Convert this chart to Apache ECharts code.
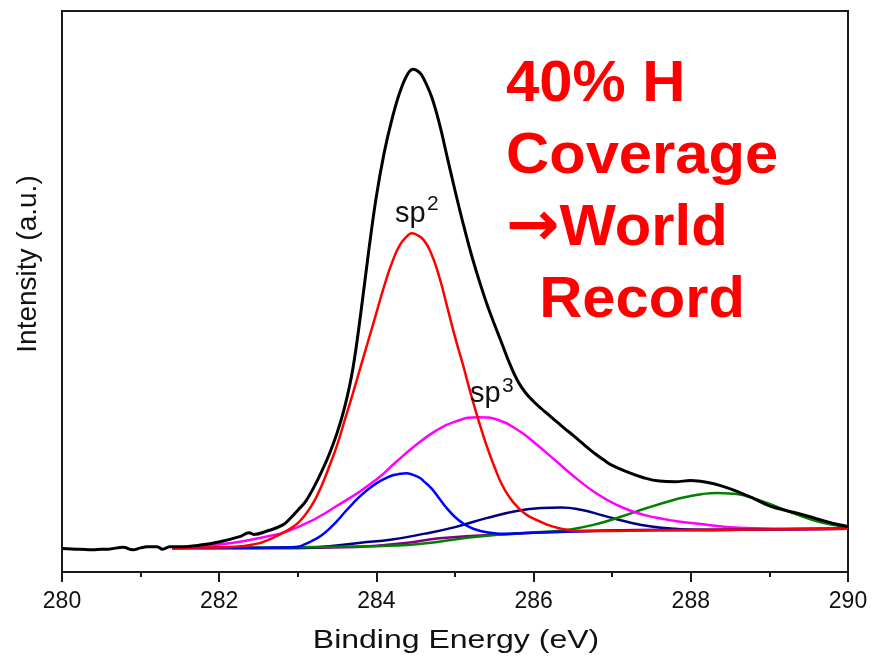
<!DOCTYPE html>
<html>
<head>
<meta charset="utf-8">
<script src="https://cdn.jsdelivr.net/npm/echarts@6/dist/echarts.min.js"></script>
<style>
html,body{margin:0;padding:0;background:#fff;}
#chart{width:876px;height:662px;}
</style>
</head>
<body>
<div id="chart"></div>
<script>
// ---- data (binding energy eV, intensity a.u.) ----
const xTicks = [280, 282, 284, 286, 288, 290];

const totalE = [280.0,280.12,280.23,280.39,280.5,280.61,280.78,280.9,281.0,281.08,281.21,281.28,281.37,281.5,281.76,282.01,282.26,282.38,282.44,282.61,282.81,282.92,283.0,283.1,283.2,283.3,283.4,283.5,283.6,283.7,283.8,283.9,284.0,284.1,284.2,284.3,284.4,284.47,284.55,284.6,284.7,284.8,284.9,285.0,285.1,285.2,285.3,285.4,285.5,285.6,285.7,285.8,285.9,286.0,286.1,286.2,286.3,286.4,286.5,286.6,286.7,286.8,286.9,287.0,287.2,287.4,287.6,287.8,288.0,288.2,288.4,288.6,288.8,289.0,289.2,289.4,289.6,289.8,290.0];
const totalI = [4.2,4.1,4.05,3.95,4.05,4.1,4.4,3.95,4.3,4.5,4.5,4.05,4.5,4.5,4.8,5.4,6.3,7.0,6.7,7.3,8.4,9.8,11.0,12.6,15.0,17.8,21.0,24.8,29.6,36.2,46.0,57.0,67.0,74.8,80.8,85.6,88.8,89.6,89.0,88.0,84.8,80.0,74.0,68.0,62.3,57.0,52.3,48.0,44.2,40.6,37.0,34.0,31.9,30.4,29.1,27.9,26.7,25.5,24.4,23.2,22.0,20.9,19.9,19.0,17.8,16.8,16.2,16.1,16.3,16.0,15.3,14.3,13.1,11.8,11.0,10.3,9.5,8.7,8.1];

const sp2E = [281.4,281.8,282.2,282.5,282.6,282.7,282.8,282.9,283.0,283.1,283.2,283.3,283.4,283.5,283.6,283.7,283.8,283.9,284.0,284.1,284.2,284.3,284.4,284.45,284.5,284.6,284.7,284.8,284.9,285.0,285.1,285.2,285.3,285.4,285.5,285.6,285.7,285.8,285.9,286.0,286.1,286.2,286.3,286.4,286.5,286.8,287.5,288.5,290.0];
const sp2I = [4.3,4.35,4.5,5.1,5.6,6.2,6.9,7.7,8.7,10.3,12.4,15.3,18.8,22.6,27.2,31.8,36.6,41.4,46.2,51.0,55.2,58.3,60.0,60.4,60.2,59.2,56.7,52.6,47.3,41.9,37.0,31.8,27.0,22.6,18.8,15.5,13.2,11.5,10.3,9.5,8.9,8.3,7.9,7.6,7.4,7.3,7.45,7.55,7.7];

const blueE = [281.4,282.5,282.9,283.0,283.1,283.2,283.3,283.4,283.5,283.6,283.7,283.8,283.9,284.0,284.1,284.2,284.3,284.38,284.45,284.55,284.6,284.7,284.8,284.9,285.0,285.1,285.2,285.3,285.4,285.5,285.6,286.0,287.0,288.0,290.0];
const blueI = [4.3,4.3,4.4,4.5,5.0,5.7,6.5,7.7,9.1,10.7,12.2,13.6,14.8,15.8,16.6,17.2,17.5,17.6,17.4,16.8,16.2,14.9,13.1,11.3,9.8,8.7,7.9,7.4,7.1,6.9,6.8,7.0,7.4,7.5,7.7];

const sp3E = [281.4,281.7,282.0,282.5,283.0,283.5,284.0,284.25,284.5,284.75,285.0,285.3,285.55,285.8,286.05,286.3,286.55,286.8,287.05,287.3,287.55,287.8,288.1,288.4,288.8,289.4,290.0];
const sp3I = [4.3,4.5,4.9,6.0,8.0,11.8,16.5,19.6,22.6,25.1,26.8,27.6,27.1,25.3,22.6,19.6,16.6,14.0,12.0,10.6,9.7,9.1,8.6,8.1,7.8,7.7,7.7];

const navyE = [281.4,283.0,283.4,283.8,284.2,284.6,285.0,285.4,285.8,286.1,286.35,286.6,286.9,287.2,287.5,287.8,288.2,289.0,290.0];
const navyI = [4.3,4.3,4.6,5.2,5.8,6.8,8.0,9.6,10.9,11.4,11.5,11.1,10.0,8.9,8.1,7.7,7.5,7.6,7.7];

const greenE = [281.4,284.0,285.5,286.2,286.42,286.76,287.1,287.44,287.77,287.95,288.15,288.33,288.5,288.66,288.97,289.3,289.64,289.99];
const greenI = [4.3,4.6,6.6,7.2,7.5,8.4,9.8,11.4,12.8,13.4,13.9,14.1,14.0,13.7,12.3,10.5,8.9,8.0];

const bgE = [281.4,283.0,283.6,284.0,284.4,284.8,285.2,285.6,286.0,286.5,287.0,287.3,288.0,289.0,290.0];
const bgI = [4.3,4.3,4.4,4.7,5.2,6.0,6.4,6.7,7.0,7.2,7.4,7.5,7.5,7.6,7.7];

function zip(a, b) { return a.map((v, i) => [v, b[i]]); }

const chart = echarts.init(document.getElementById('chart'), null, {renderer: 'canvas'});

function line(name, e, v, color, width, smooth) {
  return {
    name: name, type: 'line', data: zip(e, v), showSymbol: false, symbol: 'none',
    smooth: smooth, lineStyle: {color: color, width: width}, z: 3
  };
}

const AXC = '#1a1a1a';
const FONT = '"Liberation Sans", Arial, sans-serif';
const option = {
  animation: false,
  backgroundColor: '#ffffff',
  grid: {left: 62, right: 28, top: 11, bottom: 90, show: true, borderColor: AXC, borderWidth: 2},
  xAxis: {
    type: 'value', min: 280, max: 290, interval: 2,
    axisLine: {show: true, lineStyle: {color: AXC, width: 2}},
    axisTick: {show: true, length: 10, lineStyle: {color: AXC, width: 2}},
    minorTick: {show: true, splitNumber: 2, length: 5, lineStyle: {color: AXC, width: 2}},
    splitLine: {show: false},
    axisLabel: {color: '#111', fontSize: 23, fontFamily: FONT, margin: 18,
      formatter: function (v) { return xTicks.indexOf(v) >= 0 ? String(v) : ''; }}
  },
  yAxis: {
    type: 'value', min: 0, max: 100,
    axisLine: {show: true, lineStyle: {color: AXC, width: 2}},
    axisTick: {show: false}, axisLabel: {show: false}, splitLine: {show: false}
  },
  series: [
    line('Background', bgE, bgI, '#800080', 2.5, 0.5),
    line('C=O', navyE, navyI, '#000080', 2.5, 0.5),
    line('O-C=O', greenE, greenI, '#008000', 2.5, 0.5),
    line('sp3', sp3E, sp3I, '#ff00ff', 2.5, 0.5),
    line('C-H', blueE, blueI, '#0000ff', 2.5, 0.5),
    line('sp2', sp2E, sp2I, '#ff0000', 2.5, 0.5),
    line('Measured', totalE, totalI, '#000000', 3, 0.4)
  ],
  graphic: [
    {type: 'text', x: 506, y: 49, scaleX: 1.03, z: 10, style: {
      text: '40% H\nCoverage\n{a|\u2192}World\n  Record', fill: '#ff0000',
      fontSize: 58, fontWeight: 'bold', fontFamily: FONT, lineHeight: 72,
      align: 'left', verticalAlign: 'top',
      rich: {a: {fontSize: 62, fontWeight: 'bold', fontFamily: '"DejaVu Sans"', lineHeight: 72, fill: '#ff0000'}}}},
    {type: 'text', x: 395, y: 199, z: 10, style: {text: 'sp', fill: '#111',
      font: '29px ' + FONT, verticalAlign: 'top'}},
    {type: 'text', x: 427, y: 193.5, z: 10, style: {text: '2', fill: '#111',
      font: '21px ' + FONT, verticalAlign: 'top'}},
    {type: 'text', x: 470, y: 379, z: 10, style: {text: 'sp', fill: '#111',
      font: '29px ' + FONT, verticalAlign: 'top'}},
    {type: 'text', x: 502, y: 375.5, z: 10, style: {text: '3', fill: '#111',
      font: '21px ' + FONT, verticalAlign: 'top'}},
    {type: 'text', x: 456, y: 629, scaleX: 1.28, z: 10, style: {text: 'Binding Energy (eV)', fill: '#111',
      font: '25px ' + FONT, align: 'center', verticalAlign: 'top'}},
    {type: 'text', x: 28.6, y: 264, rotation: Math.PI / 2, z: 10, style: {text: 'Intensity (a.u.)', fill: '#111',
      font: '28px ' + FONT, align: 'center', verticalAlign: 'middle'}}
  ]
};
chart.setOption(option);
</script>
</body>
</html>
